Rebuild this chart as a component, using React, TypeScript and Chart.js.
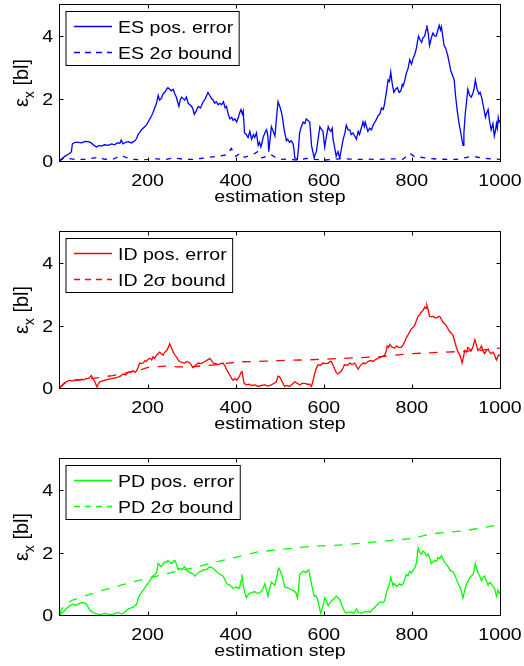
import React, { useEffect, useRef } from 'react';
import { Chart, registerables } from 'chart.js';

Chart.register(...registerables);

// ---------- axes / labels ----------
const X_TICKS = [200, 400, 600, 800, 1000];
const Y_TICKS = [0, 2, 4];
const X_MIN = 1;
const X_MAX = 1000;
const Y_MIN = 0;
const Y_MAX = 5;
const X_TITLE = 'estimation step';

// ---------- ES ----------
const esErrSteps = [0,6,12,18,23,27,29,35,42,50,58,65,72,78,84,90,95,102,110,118,125,131,137,140,144,150,156,163,171,175,178,182,186,192,197,201,205,209,212,216,220,224,227,231,235,239,243,246,250,254,258,262,265,268,271,274,277,281,284,288,292,296,300,303,306,310,315,320,326,331,337,341,345,349,352,356,360,364,368,372,376,379,383,387,391,394,398,402,406,409,412,415,417,420,424,428,432,436,440,443,447,451,454,457,460,462,466,470,473,475,478,481,485,489,492,496,500,504,507,510,515,518,522,526,530,532,534,537,540,543,545,549,553,557,560,564,568,570,572,575,578,580,583,587,591,595,598,600,602,606,610,613,616,619,621,625,628,632,636,640,644,648,651,655,659,662,666,670,674,678,681,685,689,692,694,697,700,704,708,712,716,720,723,727,731,735,738,742,746,749,752,755,759,763,767,771,775,778,780,784,787,791,795,799,803,806,810,813,815,818,822,825,829,832,834,837,840,844,848,852,855,859,862,865,867,870,873,877,881,884,888,892,896,899,903,907,911,914,916,918,921,924,927,931,935,939,941,944,948,952,955,959,963,967,970,973,976,980,984,987,990,992,994,996,998,1000];
const esErrVals = [0.02,0.08,0.15,0.2,0.25,0.3,0.55,0.6,0.6,0.58,0.63,0.62,0.58,0.5,0.45,0.5,0.48,0.52,0.5,0.55,0.52,0.58,0.57,0.67,0.55,0.6,0.62,0.58,0.65,0.72,0.85,0.92,1.0,1.08,1.15,1.25,1.35,1.45,1.55,1.7,1.85,2.1,1.95,2.0,2.15,2.2,2.3,2.35,2.3,2.25,2.3,2.15,2.05,1.9,1.75,1.95,2.05,2.0,1.95,2.05,1.85,1.8,1.75,1.65,1.5,1.6,1.75,1.7,1.9,2.0,2.2,2.1,2.0,1.95,1.85,1.9,1.8,1.85,1.8,1.9,1.7,1.75,1.5,1.35,1.4,1.3,1.35,1.25,1.4,1.55,1.65,1.5,1.6,0.9,0.85,0.75,0.95,0.7,0.85,0.75,0.9,0.5,0.6,0.45,0.6,0.75,0.9,1.0,0.8,0.3,0.7,1.1,0.95,0.8,1.3,1.9,1.75,1.55,1.3,1.0,0.65,0.7,0.6,0.65,0.55,0.4,0.1,0.08,0.05,0.5,0.9,1.1,1.25,1.2,1.35,1.3,1.25,0.9,0.5,0.3,0.1,0.2,0.3,0.7,1.1,1.0,0.95,0.7,0.45,0.8,1.1,1.0,0.95,1.05,0.7,0.4,0.15,0.3,0.1,0.4,0.7,0.9,1.15,1.0,1.0,0.85,0.9,0.8,0.7,0.95,0.85,1.05,1.25,1.1,1.25,1.1,0.95,1.05,1.0,1.15,1.25,1.35,1.45,1.5,1.7,1.65,1.85,2.2,2.6,2.55,2.85,2.5,2.2,2.3,2.35,2.2,2.25,2.45,2.4,2.6,2.8,2.95,3.25,3.1,3.3,3.4,3.6,3.85,4.0,3.9,3.8,3.95,4.0,4.2,4.35,4.1,3.7,3.95,4.1,4.0,4.0,4.2,4.35,4.2,4.3,4.0,3.7,3.6,3.4,3.2,2.9,2.75,2.6,2.1,1.6,1.2,0.9,0.65,0.5,0.9,1.5,1.9,2.3,2.1,2.05,2.2,2.3,2.6,2.3,2.15,2.2,2.0,1.7,1.4,1.55,1.65,1.3,1.0,1.2,0.8,1.0,1.2,1.05,1.4,1.25,1.3];
const esBoundSteps = [0,10,20,30,40,60,80,90,100,120,140,150,160,180,200,220,240,260,280,300,320,340,360,380,390,400,410,420,440,450,460,480,490,500,520,540,560,580,600,620,640,660,680,700,720,740,760,780,795,805,820,840,860,880,900,920,935,950,970,990,1000];
const esBoundVals = [0,0.1,0.08,0.06,0.05,0.05,0.1,0.12,0.06,0.05,0.18,0.12,0.06,0.04,0.05,0.07,0.05,0.1,0.06,0.05,0.08,0.12,0.15,0.2,0.4,0.15,0.25,0.12,0.22,0.3,0.1,0.2,0.12,0.05,0.06,0.03,0.08,0.05,0.03,0.05,0.08,0.06,0.05,0.06,0.05,0.06,0.07,0.06,0.25,0.15,0.12,0.08,0.06,0.05,0.05,0.1,0.15,0.12,0.08,0.06,0.05];

// ---------- ID ----------
const idErrSteps = [0,4,8,12,15,19,23,28,34,40,45,50,55,60,65,69,72,76,80,83,85,88,91,96,103,110,118,125,133,138,144,150,156,161,167,171,175,178,182,186,190,194,197,201,205,209,212,216,220,224,227,231,235,239,243,247,250,254,258,262,265,269,273,278,284,290,296,300,303,308,315,322,330,336,341,345,349,354,360,366,371,375,379,383,387,391,394,398,402,406,409,412,414,417,419,424,430,436,443,451,458,466,473,481,487,492,496,500,504,508,511,516,522,528,534,540,545,551,557,563,568,572,575,578,582,587,592,598,604,610,614,617,621,625,628,632,636,640,644,647,653,659,664,670,674,678,683,689,694,700,706,712,718,723,727,731,735,738,741,744,747,750,754,757,761,765,770,776,780,784,787,791,795,799,803,806,810,814,818,822,826,829,832,834,837,840,844,848,852,856,860,863,867,871,875,878,882,886,890,893,897,901,905,909,912,914,917,920,924,927,931,935,939,943,946,950,954,958,961,965,969,973,976,980,984,988,990,992,996,1000];
const idErrVals = [0.02,0.05,0.1,0.15,0.2,0.22,0.25,0.22,0.25,0.27,0.25,0.28,0.26,0.3,0.3,0.35,0.4,0.3,0.2,0.1,0.05,0.12,0.2,0.22,0.25,0.28,0.3,0.32,0.35,0.38,0.45,0.42,0.5,0.52,0.55,0.5,0.55,0.65,0.8,0.78,0.8,0.88,0.85,0.92,0.95,0.9,1.0,0.95,1.05,1.1,1.15,1.1,1.05,1.15,1.2,1.3,1.42,1.3,1.15,1.05,1.0,0.9,0.85,0.82,0.8,0.85,0.8,0.72,0.65,0.72,0.8,0.78,0.85,0.9,0.95,0.88,0.8,0.78,0.75,0.78,0.8,0.72,0.6,0.5,0.4,0.3,0.25,0.3,0.25,0.32,0.4,0.5,0.55,0.3,0.15,0.1,0.12,0.08,0.1,0.05,0.08,0.1,0.06,0.1,0.15,0.2,0.38,0.35,0.25,0.12,0.05,0.08,0.05,0.12,0.2,0.15,0.1,0.15,0.15,0.12,0.12,0.05,0.2,0.4,0.6,0.75,0.72,0.8,0.78,0.8,0.85,0.85,0.72,0.6,0.5,0.45,0.5,0.55,0.65,0.75,0.72,0.8,0.75,0.8,0.7,0.6,0.72,0.8,0.78,0.85,0.88,0.85,0.92,0.95,0.98,1.0,1.02,1.05,1.15,1.35,1.3,1.4,1.32,1.3,1.28,1.35,1.3,1.3,1.38,1.5,1.6,1.7,1.8,1.9,1.95,2.0,2.15,2.3,2.35,2.45,2.5,2.6,2.55,2.65,2.5,2.3,2.28,2.3,2.25,2.25,2.28,2.3,2.2,2.1,2.05,2.0,1.9,1.8,1.75,1.7,1.5,1.3,1.15,1.05,0.9,0.8,1.0,1.2,1.15,1.3,1.25,1.2,1.35,1.55,1.4,1.2,1.25,1.35,1.2,1.1,1.2,1.25,1.15,1.1,1.15,1.05,0.95,0.9,1.05,1.05];
const idBoundSteps = [0,10,20,40,60,88,120,148,178,201,220,239,269,300,330,360,383,413,466,500,560,647,723,799,874,912,950,1000];
const idBoundVals = [0,0.15,0.22,0.25,0.28,0.33,0.4,0.48,0.56,0.66,0.68,0.7,0.68,0.68,0.72,0.75,0.8,0.84,0.86,0.88,0.9,0.95,1.0,1.1,1.15,1.17,1.2,1.28];

// ---------- PD ----------
const pdErrSteps = [0,4,8,12,15,19,23,27,31,36,42,47,53,57,61,65,69,74,80,87,95,102,110,116,122,128,133,139,144,150,156,161,167,171,175,178,182,186,190,194,197,201,205,209,212,216,220,222,224,227,231,235,239,243,246,250,254,258,262,266,269,273,277,281,284,288,292,296,300,304,307,311,315,319,322,327,333,337,341,345,349,352,356,360,364,368,371,375,379,383,387,391,394,398,402,406,409,412,414,417,420,424,428,432,437,443,447,451,455,458,462,466,470,473,477,481,485,489,493,497,500,504,508,511,516,522,528,534,537,540,543,545,549,553,557,560,563,566,569,572,575,578,581,585,589,593,596,599,602,606,610,614,617,621,625,628,632,636,640,644,648,651,655,659,663,667,671,674,678,682,685,689,693,697,701,705,708,712,716,719,723,727,731,735,738,742,746,749,752,755,757,761,764,768,772,776,780,784,787,791,795,799,803,806,810,812,814,818,822,825,829,833,837,841,844,848,852,856,859,863,867,870,874,878,882,886,890,894,897,901,905,909,912,914,916,920,924,928,931,935,939,941,944,947,950,954,958,961,965,969,973,976,980,984,988,990,992,995,998,1000];
const pdErrVals = [0,0.05,0.1,0.15,0.2,0.25,0.3,0.32,0.35,0.3,0.35,0.38,0.4,0.38,0.35,0.25,0.15,0.1,0.05,0.03,0.02,0.05,0.03,0.02,0.02,0.06,0.08,0.04,0.05,0.12,0.2,0.22,0.25,0.3,0.35,0.5,0.65,0.72,0.8,0.88,0.95,1.02,1.1,1.18,1.25,1.3,1.35,1.5,1.65,1.6,1.55,1.65,1.7,1.68,1.75,1.7,1.65,1.72,1.75,1.6,1.45,1.5,1.45,1.5,1.55,1.45,1.4,1.35,1.35,1.3,1.25,1.3,1.35,1.4,1.4,1.45,1.45,1.5,1.55,1.52,1.5,1.45,1.4,1.35,1.3,1.28,1.25,1.15,1.0,0.98,0.95,0.9,0.85,0.88,0.9,0.85,0.9,1.1,1.3,0.95,0.75,0.55,0.65,0.7,0.72,0.75,0.7,0.7,0.72,0.75,0.85,1.0,0.8,0.6,0.85,1.05,1.0,0.95,1.2,1.5,1.45,1.3,1.1,0.9,0.88,0.85,0.8,0.75,0.7,0.55,0.9,1.3,1.35,1.4,1.38,1.35,1.42,1.45,1.2,1.0,0.8,0.6,0.62,0.55,0.3,0.05,0.2,0.35,0.55,0.45,0.3,0.4,0.45,0.5,0.55,0.6,0.55,0.5,0.35,0.2,0.1,0.05,0.1,0.08,0.1,0.05,0.12,0.2,0.1,0.08,0.05,0.08,0.12,0.1,0.12,0.08,0.15,0.2,0.25,0.3,0.35,0.4,0.42,0.4,0.45,0.7,0.9,1.0,1.2,1.05,0.95,1.0,0.92,0.95,1.0,0.95,1.0,1.15,1.3,1.25,1.4,1.35,1.45,1.5,1.65,1.9,2.15,2.0,1.95,2.05,2.0,1.9,1.95,1.8,1.65,1.7,1.75,1.72,1.85,1.8,1.9,1.8,1.7,1.62,1.55,1.45,1.4,1.38,1.3,1.15,1.0,0.9,0.8,0.65,0.55,0.8,1.0,1.1,1.2,1.25,1.3,1.45,1.65,1.5,1.35,1.25,1.1,1.2,1.25,1.1,0.95,1.05,1.0,0.92,0.85,0.7,0.6,0.8,0.7,0.75];
const pdBoundSteps = [0,5,15,30,60,100,150,200,250,300,350,400,450,500,572,647,723,799,844,920,1000];
const pdBoundVals = [0,0.2,0.38,0.48,0.62,0.8,1.0,1.18,1.35,1.5,1.68,1.85,2.02,2.1,2.2,2.25,2.35,2.45,2.6,2.7,2.9];

const PANELS = [
  { name: 'ES', color: '#0000ff', errSteps: esErrSteps, errVals: esErrVals, bSteps: esBoundSteps, bVals: esBoundVals, dash: [5, 6] },
  { name: 'ID', color: '#ff0000', errSteps: idErrSteps, errVals: idErrVals, bSteps: idBoundSteps, bVals: idBoundVals, dash: [8.5, 8.5] },
  { name: 'PD', color: '#00ff00', errSteps: pdErrSteps, errVals: pdErrVals, bSteps: pdBoundSteps, bVals: pdBoundVals, dash: [8.5, 8.5] },
];

const FONT = "'Liberation Sans', Arial, Helvetica, sans-serif";
const FS = 17;
const SX = 1.15;
const LEGEND_DASH = [6, 5];
const PANEL_TOPS = [0, 227, 454];
const CANVAS_W = 524;
const CANVAS_H = 212;

function drawText(ctx: CanvasRenderingContext2D, s: string, x: number, y: number, align: CanvasTextAlign, size: number, sx = SX) {
  ctx.save();
  ctx.translate(x, y);
  ctx.scale(sx, 1);
  ctx.font = `${size}px ${FONT}`;
  ctx.textAlign = align;
  ctx.textBaseline = 'alphabetic';
  ctx.fillStyle = '#000';
  ctx.fillText(s, 0, 0);
  ctx.restore();
}

function makePlugin(panel: any) {
  return {
    id: 'matlabAxes',
    afterDraw(chart: any) {
      const ctx: CanvasRenderingContext2D = chart.ctx;
      const a = chart.chartArea;
      const xs = chart.scales.x;
      const ys = chart.scales.y;
      ctx.save();
      const L = Math.round(a.left) - 0.5;
      const R = Math.round(a.right) + 0.5;
      const T = Math.round(a.top) - 0.5;
      const B = Math.round(a.bottom) + 0.5;

      // legend
      const l1 = `${panel.name} pos. error`;
      const l2 = `${panel.name} 2\u03c3 bound`;
      ctx.font = `${FS}px ${FONT}`;
      const tw = Math.max(ctx.measureText(l1).width, ctx.measureText(l2).width) * SX;
      const bx = L + 6.5;
      const by = T + 7;
      const textX = bx + 52;
      const bw = textX + tw + 6 - bx;
      const bh = 54;
      ctx.fillStyle = '#fff';
      ctx.fillRect(bx, by, bw, bh);
      ctx.strokeStyle = '#000';
      ctx.lineWidth = 1;
      ctx.strokeRect(bx, by, bw, bh);
      const r1 = by + 15;
      const r2 = by + 41;
      ctx.strokeStyle = panel.color;
      ctx.lineWidth = 1.3;
      ctx.setLineDash([]);
      ctx.beginPath();
      ctx.moveTo(bx + 8, r1);
      ctx.lineTo(bx + 46, r1);
      ctx.stroke();
      ctx.setLineDash(LEGEND_DASH);
      ctx.beginPath();
      ctx.moveTo(bx + 8, r2);
      ctx.lineTo(bx + 46, r2);
      ctx.stroke();
      ctx.setLineDash([]);
      drawText(ctx, l1, textX, r1 + 6, 'left', FS);
      drawText(ctx, l2, textX, r2 + 6, 'left', FS);

      // box
      ctx.strokeStyle = '#000';
      ctx.lineWidth = 1;
      ctx.strokeRect(L, T, R - L, B - T);
      ctx.beginPath();
      for (const t of X_TICKS) {
        const px = Math.round(xs.getPixelForValue(t)) + 0.5;
        ctx.moveTo(px, B); ctx.lineTo(px, B - 4);
        ctx.moveTo(px, T); ctx.lineTo(px, T + 4);
      }
      for (const t of Y_TICKS) {
        const py = Math.round(ys.getPixelForValue(t)) + 0.5;
        ctx.moveTo(L, py); ctx.lineTo(L + 4, py);
        ctx.moveTo(R, py); ctx.lineTo(R - 4, py);
      }
      ctx.stroke();

      // tick labels
      for (const t of X_TICKS) {
        drawText(ctx, String(t), xs.getPixelForValue(t), B + 24, 'center', FS);
      }
      for (const t of Y_TICKS) {
        drawText(ctx, String(t), L - 6.5, ys.getPixelForValue(t) + 6, 'right', FS);
      }
      // x title
      drawText(ctx, X_TITLE, (a.left + a.right) / 2, B + 40, 'center', FS);

      // y title: epsilon_x [bl]
      const cy = (a.top + a.bottom) / 2;
      ctx.save();
      ctx.translate(28, cy);
      ctx.rotate(-Math.PI / 2);
      ctx.fillStyle = '#000';
      ctx.textBaseline = 'alphabetic';
      ctx.textAlign = 'left';
      ctx.font = `20px ${FONT}`;
      const wE = ctx.measureText('\u03b5').width;
      const wB = ctx.measureText(' [bl]').width;
      ctx.font = `14px ${FONT}`;
      const wX = ctx.measureText('x').width;
      const total = wE + wX + wB;
      let cx = -total / 2;
      ctx.font = `20px ${FONT}`;
      ctx.fillText('\u03b5', cx, 0);
      cx += wE;
      ctx.font = `14px ${FONT}`;
      ctx.fillText('x', cx, 6);
      cx += wX;
      ctx.font = `20px ${FONT}`;
      ctx.fillText(' [bl]', cx, 0);
      ctx.restore();

      ctx.restore();
    },
  };
}

function toPoints(steps: number[], vals: number[]) {
  return steps.map((s, i) => ({ x: s, y: vals[i] }));
}

function Panel({ panel, top }: { panel: any; top: number }) {
  const ref = useRef<HTMLCanvasElement>(null);
  useEffect(() => {
    const canvas = ref.current!;
    const chart = new Chart(canvas, {
      type: 'line',
      data: {
        datasets: [
          {
            data: toPoints(panel.errSteps, panel.errVals),
            borderColor: panel.color,
            borderWidth: 1.3,
            pointRadius: 0,
            tension: 0,
            fill: false,
          },
          {
            data: toPoints(panel.bSteps, panel.bVals),
            borderColor: panel.color,
            borderWidth: 1.3,
            borderDash: panel.dash,
            pointRadius: 0,
            tension: 0,
            fill: false,
          },
        ],
      },
      options: {
        animation: false,
        responsive: false,
        devicePixelRatio: 1,
        layout: { padding: { left: 60, right: 24, top: 5, bottom: CANVAS_H - 161 } },
        scales: {
          x: { type: 'linear', min: X_MIN, max: X_MAX, display: false },
          y: { type: 'linear', min: Y_MIN, max: Y_MAX, display: false },
        },
        plugins: { legend: { display: false }, tooltip: { enabled: false } },
      },
      plugins: [makePlugin(panel)],
    } as any);
    return () => chart.destroy();
  }, [panel]);
  return (
    <canvas
      ref={ref}
      width={CANVAS_W}
      height={CANVAS_H}
      style={{ position: 'absolute', left: 0, top, width: CANVAS_W, height: CANVAS_H }}
    />
  );
}

export default function App() {
  return (
    <div style={{ position: 'absolute', left: 0, top: 0, width: 524, height: 666, overflow: 'hidden', background: '#fff' }}>
      {PANELS.map((p, i) => (
        <Panel key={p.name} panel={p} top={PANEL_TOPS[i]} />
      ))}
    </div>
  );
}
